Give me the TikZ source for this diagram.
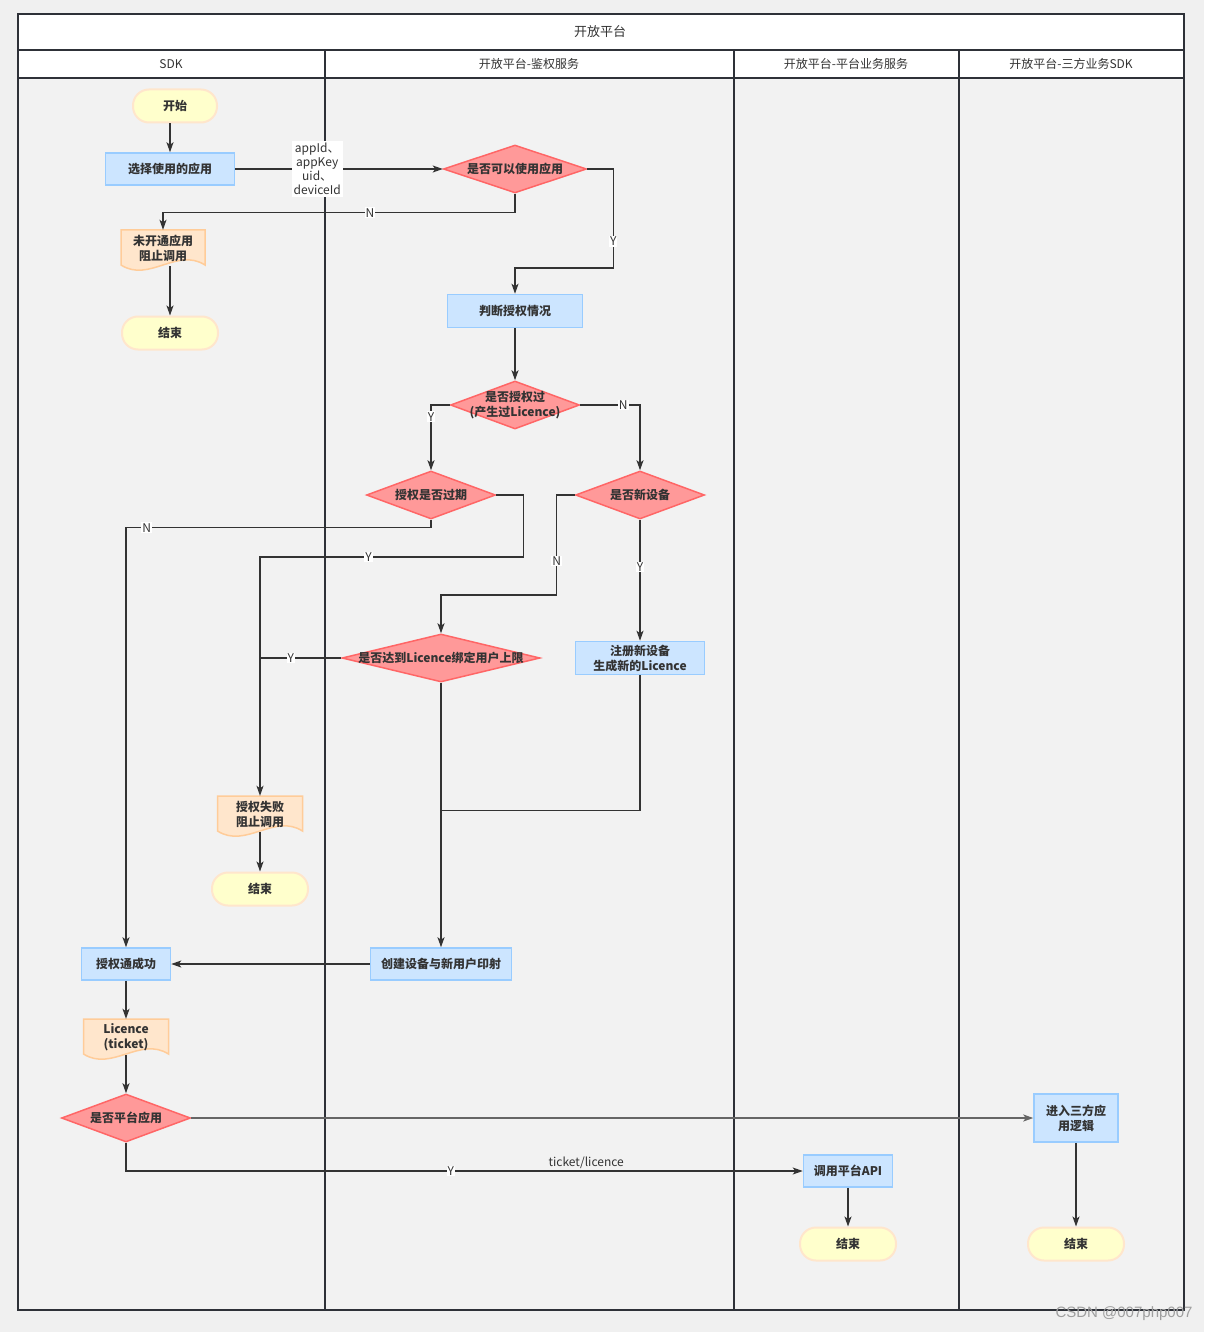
\documentclass[tikz,border=0pt]{standalone}
\usepackage{fontspec}
\setmainfont{Noto Sans CJK SC}
\newfontfamily\markfont{Liberation Sans}
\usepackage{xcolor}
\usetikzlibrary{shapes.geometric, arrows.meta, positioning, calc}

\definecolor{pagebg}{HTML}{F0F0F0}
\definecolor{lanebg}{HTML}{F2F2F2}
\definecolor{frameln}{HTML}{2E3138}
\definecolor{edgeln}{HTML}{333333}
\definecolor{boxfill}{HTML}{CCE5FF}
\definecolor{boxline}{HTML}{99CCFF}
\definecolor{termfill}{HTML}{FFFFCC}
\definecolor{termline}{HTML}{FFE6CC}
\definecolor{docfill}{HTML}{FFE6CC}
\definecolor{docline}{HTML}{FFCC99}
\definecolor{decfill}{HTML}{FF9999}
\definecolor{decline}{HTML}{FF6666}

% wavy document box: name, position, width, text
\newcommand{\docnode}[4]{%
  \begin{scope}[shift={#2}]
    \draw[draw=docline, fill=docfill, line width=1.5pt]
      (-#3/2,-18) -- (#3/2,-18) -- (#3/2,17)
      .. controls (#3/6,-1) and (-#3/6,35) .. (-#3/2,17) -- cycle;
  \end{scope}
  \node[txt, minimum width=#3pt, minimum height=36pt, inner sep=0pt] (#1) at #2 {#4};
}

\begin{document}
\begin{tikzpicture}[
    x=1pt, y=-1pt,
    txt/.style={font=\fontsize{12}{15}\selectfont\bfseries, text=edgeln, align=center},
    box/.style={txt, draw=boxline, fill=boxfill, line width=1.5pt, minimum height=32pt, inner sep=2pt},
    term/.style={txt, draw=termline, fill=termfill, line width=2pt, rounded corners=16pt, minimum width=96pt, minimum height=33pt},
    dec/.style={diamond, draw=decline, fill=decfill, line width=1.5pt, minimum width=129pt, minimum height=48pt, inner sep=0pt, label={[txt]center:#1}},
    head/.style={font=\fontsize{12}{14}\selectfont, text=edgeln},
    arr/.style={-{Stealth[length=10pt, width=7pt, inset=2.5pt]}, draw=edgeln, line width=1.3pt},
    line/.style={draw=edgeln, line width=1.3pt},
    lbl/.style={font=\fontsize{12}{14}\selectfont, text=edgeln, fill=white, inner sep=1pt}
]
    % page and swimlanes
    \fill[pagebg] (0,0) rectangle (1204,1332);
    \fill[lanebg] (18,14) rectangle (1184,1310);
    \fill[white] (18,14) rectangle (1184,78);
    \draw[frameln, line width=2pt] (18,14) rectangle (1184,1310);
    \draw[frameln, line width=2pt] (18,50) -- (1184,50);
    \draw[frameln, line width=2pt] (18,78) -- (1184,78);
    \foreach \lx in {325,734,959}
        \draw[frameln, line width=2pt] (\lx,50) -- (\lx,1310);

    \node[head, font=\fontsize{13}{15}\selectfont] (title) at (600,32) {开放平台};
    \node[head] (sdk)   at (171,64)  {SDK};
    \node[head] (authh) at (529,64)  {开放平台-鉴权服务};
    \node[head] (bizh)  at (846,64)  {开放平台-平台业务服务};
    \node[head] (thirdh) at (1071,64) {开放平台-三方业务SDK};

    % SDK column
    \node[term, minimum width=84pt] (start) at (175,106) {开始};
    \node[box, minimum width=129pt] (choose) at (170,169) {选择使用的应用};
    \docnode{nouse}{(163,248)}{84}{未开通应用\\阻止调用}
    \node[term] (end1) at (170,333) {结束};
    \node[box, minimum width=89pt] (success) at (126,964) {授权通成功};
    \docnode{ticket}{(126,1037)}{85}{Licence\\(ticket)}
    \node[dec=是否平台应用] (platform) at (126,1118) {};
    \docnode{fail}{(260,814)}{85}{授权失败\\阻止调用}
    \node[term] (end2) at (260,889) {结束};

    % auth service column
    \node[dec=是否可以使用应用, minimum width=143pt] (canuse) at (515,169) {};
    \node[box, minimum width=135pt, minimum height=33pt] (judge) at (515,311) {判断授权情况};
    \node[dec={是否授权过\\(产生过Licence)}] (authed) at (515,405) {};
    \node[dec=授权是否过期] (expired) at (431,495) {};
    \node[dec=是否新设备] (newdev) at (640,495) {};
    \node[dec=是否达到Licence绑定用户上限, minimum width=198pt] (limit) at (441,658) {};
    \node[box, minimum width=129pt, minimum height=33pt] (register) at (640,658) {注册新设备\\生成新的Licence};
    \node[box, minimum width=141pt] (create) at (441,964) {创建设备与新用户印射};

    % platform business and third party columns
    \node[box, minimum width=89pt] (callapi) at (848,1171) {调用平台API};
    \node[term] (end3) at (848,1244) {结束};
    \node[box, minimum width=84pt, minimum height=48pt] (third) at (1076,1118) {进入三方应\\用逻辑};
    \node[term] (end4) at (1076,1244) {结束};

    % flow
    \draw[arr] (choose.north |- start.south) -- (choose.north);
    \draw[arr] (choose) -- node[lbl, pos=0.395, font=\fontsize{12}{14}\selectfont, align=center, inner sep=2pt]
        {appId、\\appKey\\uid、\\deviceId} (canuse);
    \draw[arr] (canuse.south) -- ++(0,19) -| node[lbl, pos=0.206] {N} (nouse.north);
    \draw[arr] (canuse.east) -- ++(26,0) -- node[lbl, pos=0.73] {Y} ++(0,99) -| (judge.north);
    \draw[arr] (end1.north |- nouse.south) -- (end1.north);
    \draw[arr] (judge) -- (authed);
    \draw[arr] (authed.west) -| node[lbl, pos=0.59] {Y} (expired.north);
    \draw[arr] (authed.east) -| node[lbl, pos=0.36] {N} (newdev.north);
    \draw[arr] (expired.south) -- ++(0,8) -| node[lbl, pos=0.466] {N} (success.north);
    \draw[arr] (expired.east) -- ++(27,0) -- ++(0,62) -| node[lbl, pos=0.294] {Y} (fail.north);
    \draw[arr] (newdev.west) -- ++(-18,0) -- node[lbl, pos=0.66] {N} ++(0,100) -| (limit.north);
    \draw[arr] (newdev) -- node[lbl, pos=0.39] {Y} (register);
    \draw[line] (limit.west) -- node[lbl, pos=0.62] {Y} (fail.north |- limit.west);
    \draw[arr] (limit.south) -- (create.north);
    \draw[line] (register.south) |- ([yshift=137pt]create.north);
    \draw[arr] (fail) -- (end2);
    \draw[arr] (create) -- (success);
    \draw[arr] (success) -- (ticket);
    \draw[arr] (ticket) -- (platform);
    \draw[arr, draw=edgeln!75, line width=1.8pt] (platform) -- (third);
    \draw[arr] (platform.south) |- node[lbl, pos=0.74] {Y}
        node[head, pos=0.84, above, inner sep=2pt] {ticket/licence} (callapi.west);
    \draw[arr] (callapi) -- (end3);
    \draw[arr] (third) -- (end4);

    % watermark
    \node[text=black!38, font=\markfont\fontsize{15}{17}\selectfont] (mark) at (1124,1314) {CSDN @007php007};
\end{tikzpicture}
\end{document}
